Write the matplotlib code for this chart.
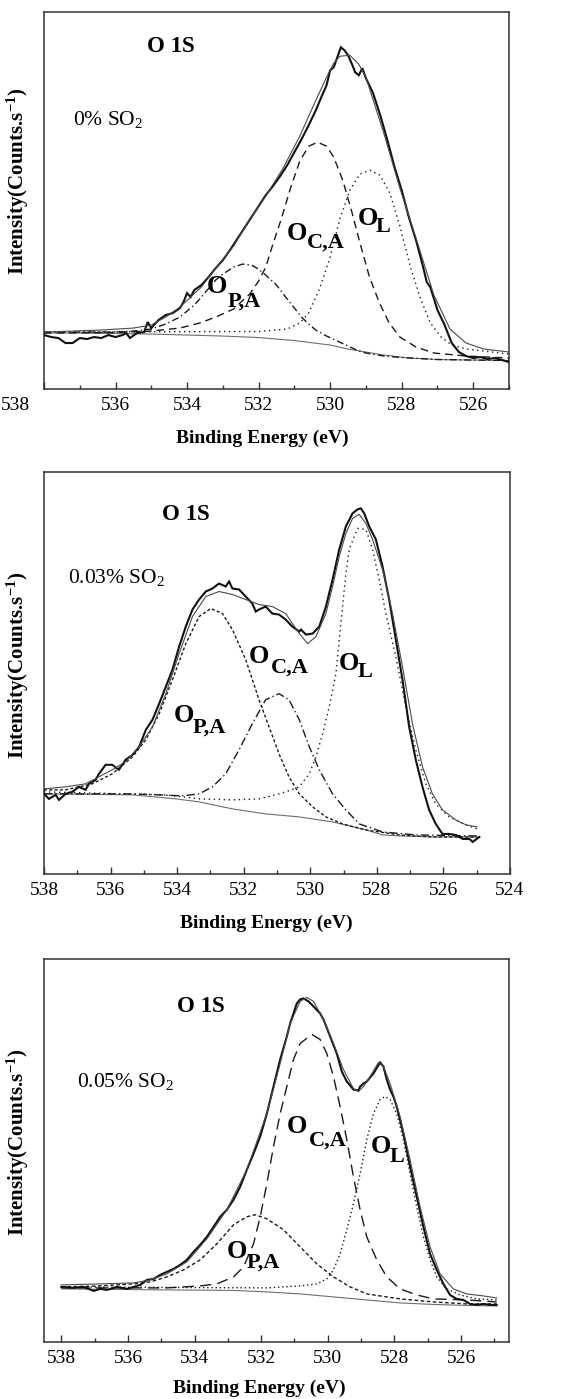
import matplotlib
matplotlib.use('Agg')
import matplotlib.pyplot as plt
from matplotlib.ticker import MultipleLocator, FuncFormatter

plt.rcParams['font.family'] = ['Liberation Serif', 'DejaVu Serif']
plt.rcParams['mathtext.fontset'] = 'custom'
plt.rcParams['mathtext.rm'] = 'Liberation Serif'
plt.rcParams['mathtext.it'] = 'Liberation Serif:italic'
plt.rcParams['mathtext.bf'] = 'Liberation Serif:bold'

# ---------------- Panel 1 : 0% SO2 ----------------
p1_raw_ev = [538.0, 537.8, 537.6, 537.4, 537.2, 537.0, 536.8, 536.6, 536.4, 536.2, 536.0, 535.8, 535.7, 535.6,
             535.4, 535.2, 535.1, 535.0, 534.8, 534.6, 534.4, 534.2, 534.1, 534.0, 533.9, 533.8, 533.6, 533.4,
             533.2, 533.0, 532.8, 532.6, 532.4, 532.2, 532.0, 531.8, 531.6, 531.4, 531.2, 531.0, 530.8, 530.6,
             530.4, 530.2, 530.1, 530.0, 529.9, 529.8, 529.7, 529.6, 529.5, 529.4, 529.3, 529.2, 529.1, 529.0,
             528.8, 528.6, 528.4, 528.2, 528.0, 527.8, 527.6, 527.4, 527.3, 527.2, 527.0, 526.8, 526.6, 526.4,
             526.2, 526.0, 525.8, 525.6, 525.4, 525.2, 525.0]
p1_raw = [54, 52, 51, 46, 46, 51, 50, 52, 51, 54, 52, 54, 56, 51, 56, 57, 67, 61, 69, 74, 76, 81, 87, 96, 92, 99,
          104, 112, 121, 129, 139, 150, 161, 172, 183, 194, 203, 213, 224, 237, 250, 264, 279, 296, 304, 319, 322,
          332, 342, 339, 334, 326, 317, 314, 321, 311, 296, 274, 249, 222, 199, 172, 149, 122, 107, 102, 79, 64,
          46, 37, 33, 31, 32, 30, 31, 29, 27]
p1_env_ev = [538.0, 536.4, 535.5, 535.0, 534.6, 534.2, 533.6, 533.2, 532.7, 532.25, 531.8, 531.3, 530.85, 530.4,
             530.1, 529.9, 529.73, 529.45, 529.2, 529.0, 528.5, 528.05, 527.6, 527.1, 526.65, 526.2, 525.7, 525.0]
p1_env = [57, 59, 61, 64, 72, 82, 102, 121, 143, 170, 193, 222, 253, 289, 312, 326, 333, 334, 325, 312, 256, 201,
          151, 94, 60, 46, 40, 37]
p1_bg_ev = [538, 537, 536, 535, 534, 533, 532, 531, 530, 529.5, 528.5, 527.8, 527, 526, 525]
p1_bg = [56, 56, 55.5, 55, 54, 53, 51.5, 48.5, 44, 40, 34, 31, 29.5, 29, 28.5]
p1_pa_ev = [538.0, 536.0, 535.5, 535.0, 534.6, 534.2, 533.8, 533.6, 533.2, 533.0, 532.7, 532.45, 532.2, 532.0,
            531.8, 531.5, 531.2, 531.0, 530.8, 530.6, 530.4, 530.1, 529.8, 529.5, 529.2, 529.0, 528.5, 528.0,
            527.0, 526.0, 525.0]
p1_pa = [57, 57, 58, 60, 65, 72, 84, 92, 109, 115, 122, 125, 124, 120, 114, 104, 90, 81, 72, 65, 59, 53, 48,
         43, 38, 36, 33, 31.5, 29.5, 29, 28.5]
p1_ca_ev = [538.0, 536.0, 535.0, 534.2, 533.65, 533.2, 532.7, 532.25, 532.0, 531.8, 531.6, 531.35, 531.1, 530.85,
            530.6, 530.35, 530.1, 529.9, 529.64, 529.4, 529.15, 528.9, 528.62, 528.35, 528.05, 527.6, 527.1,
            526.2, 525.0]
p1_ca = [56, 56.5, 58, 61, 66, 72, 80, 95, 108, 122, 145, 172, 202, 228, 243, 247, 243, 232, 208, 178, 144, 112,
         86, 66, 52, 42, 36, 33, 31]
p1_l_ev = [538.0, 533.0, 532.0, 531.2, 530.85, 530.6, 530.3, 530.0, 529.73, 529.45, 529.17, 528.89, 528.61,
           528.33, 528.05, 527.77, 527.49, 527.2, 526.9, 526.6, 526.19, 525.0]
p1_l = [57, 57.5, 57.5, 60, 66, 76, 100, 132, 170, 199, 215, 219, 214, 196, 163, 124, 92, 66, 52, 44, 40, 35]

# ---------------- Panel 2 : 0.03% SO2 ----------------
p2_raw_ev = [538.0, 537.85, 537.65, 537.55, 537.35, 537.15, 536.95, 536.75, 536.65, 536.45, 536.35, 536.15,
             535.95, 535.75, 535.55, 535.34, 535.14, 534.94, 534.74, 534.54, 534.34, 534.14, 533.94, 533.74,
             533.54, 533.34, 533.14, 532.94, 532.74, 532.54, 532.44, 532.34, 532.14, 531.94, 531.74, 531.64,
             531.54, 531.34, 531.14, 530.94, 530.74, 530.54, 530.33, 530.28, 530.13, 529.93, 529.73, 529.53,
             529.33, 529.13, 528.93, 528.73, 528.58, 528.48, 528.38, 528.23, 528.03, 527.83, 527.63, 527.43,
             527.23, 527.03, 526.83, 526.63, 526.43, 526.23, 526.03, 525.83, 525.63, 525.42, 525.22, 525.12,
             524.92]
p2_raw = [80, 75, 79, 74, 80, 82, 87, 84, 90, 94, 100, 109, 109, 104, 114, 119, 127, 144, 154, 170, 187, 204, 227,
          247, 264, 274, 282, 285, 290, 287, 292, 285, 284, 277, 270, 262, 264, 267, 260, 259, 254, 247, 242, 244,
          239, 240, 247, 267, 294, 324, 347, 360, 364, 365, 360, 347, 334, 307, 274, 234, 194, 147, 114, 87, 64,
          50, 40, 40, 39, 35, 35, 32, 37]
p2_env_ev = [538.0, 537.35, 536.75, 536.35, 535.95, 535.55, 535.14, 534.74, 534.34, 533.94, 533.54, 533.14,
             532.74, 532.34, 531.94, 531.54, 531.14, 530.74, 530.33, 530.08, 529.83, 529.53, 529.33, 529.13,
             528.93, 528.73, 528.53, 528.33, 528.13, 527.83, 527.53, 527.23, 526.93, 526.63, 526.33, 526.03,
             525.63, 525.32, 524.99]
p2_env = [85, 87, 90, 97, 104, 112, 127, 147, 180, 220, 257, 277, 282, 279, 274, 269, 267, 260, 240, 230, 237, 260,
          287, 317, 340, 355, 359, 350, 334, 304, 260, 207, 150, 107, 80, 64, 54, 49, 47]
p2_bg_ev = [538.0, 535.34, 534.04, 533.34, 532.34, 531.34, 530.33, 529.33, 528.33, 527.83, 527.33, 526.33, 524.99]
p2_bg = [80, 79, 75, 72, 65, 60, 57, 52, 44, 39, 38, 37, 37]
p2_pa_ev = [538.0, 537.35, 536.55, 535.95, 535.34, 534.94, 534.54, 534.14, 533.74, 533.34, 532.99, 532.64,
            532.34, 531.94, 531.54, 531.24, 530.94, 530.64, 530.33, 529.93, 529.53, 529.03, 528.33, 527.33,
            526.33, 524.99]
p2_pa = [84, 84, 90, 100, 117, 134, 160, 194, 230, 257, 265, 260, 244, 214, 174, 147, 120, 97, 80, 67, 57, 50,
         44, 39, 37, 37]
p2_ca_ev = [538.0, 535.34, 533.84, 533.34, 532.94, 532.54, 532.14, 531.74, 531.34, 530.94, 530.64, 530.33,
            530.03, 529.73, 529.33, 528.93, 528.53, 527.83, 526.83, 524.99]
p2_ca = [80, 80, 78, 80, 87, 100, 124, 150, 174, 180, 174, 154, 127, 104, 80, 64, 50, 42, 39, 38]
p2_l_ev = [538.0, 534.34, 533.34, 532.34, 531.54, 531.04, 530.74, 530.33, 530.03, 529.83, 529.63, 529.43,
           529.23, 529.13, 529.03, 528.93, 528.83, 528.58, 528.33, 528.13, 527.93, 527.73, 527.43, 527.13,
           526.83, 526.53, 526.23, 525.83, 525.32, 524.99]
p2_l = [82, 79, 75, 74, 75, 79, 82, 87, 100, 117, 140, 167, 200, 234, 267, 300, 324, 345, 344, 324, 294, 260, 217,
        167, 124, 90, 70, 57, 49, 45]

# ---------------- Panel 3 : 0.05% SO2 ----------------
p3_raw_ev = [538.0, 537.63, 537.33, 537.03, 536.83, 536.63, 536.33, 536.03, 535.83, 535.63, 535.43, 535.23,
             535.03, 534.83, 534.63, 534.43, 534.23, 534.03, 533.83, 533.63, 533.43, 533.23, 533.03, 532.83,
             532.63, 532.43, 532.23, 532.03, 531.83, 531.63, 531.43, 531.23, 531.13, 531.03, 530.93, 530.83,
             530.73, 530.58, 530.43, 530.23, 530.13, 529.93, 529.73, 529.58, 529.43, 529.23, 529.08, 529.03,
             528.93, 528.83, 528.63, 528.43, 528.33, 528.23, 528.13, 528.03, 527.93, 527.73, 527.53, 527.33,
             527.13, 526.93, 526.73, 526.53, 526.33, 526.13, 525.93, 525.73, 525.53, 525.33, 525.13, 524.93]
p3_raw = [55, 54, 55, 51, 53, 52, 55, 53, 55, 57, 62, 63, 67, 70, 73, 77, 82, 90, 97, 105, 115, 125, 132, 142,
          155, 172, 188, 205, 228, 255, 282, 305, 318, 328, 338, 342, 343, 340, 335, 328, 322, 305, 288, 270, 260,
          252, 251, 255, 258, 260, 268, 279, 275, 262, 252, 245, 235, 208, 175, 145, 115, 88, 72, 58, 47, 43, 42,
          38, 37, 38, 37, 37]
p3_env_ev = [538.0, 536.83, 535.83, 535.33, 534.83, 534.23, 533.63, 533.03, 532.43, 531.83, 531.43, 531.13,
             530.83, 530.63, 530.43, 530.13, 529.83, 529.53, 529.23, 529.08, 528.93, 528.73, 528.48, 528.33,
             528.13, 527.83, 527.53, 527.23, 526.93, 526.63, 526.23, 525.83, 525.33, 524.93]
p3_env = [57, 58, 59, 62, 68, 80, 103, 132, 172, 228, 278, 318, 340, 344, 340, 322, 298, 272, 253, 250, 255, 265,
          279, 275, 258, 225, 182, 135, 95, 68, 53, 48, 46, 44]
p3_bg_ev = [538.0, 534.83, 532.83, 531.83, 530.83, 529.83, 528.83, 527.83, 526.83, 525.83, 524.93]
p3_bg = [53, 52, 51.5, 50, 48, 45, 42, 39, 37.5, 36.5, 36]
p3_pa_ev = [538.0, 536.83, 535.83, 535.33, 534.83, 534.33, 533.83, 533.33, 532.83, 532.43, 532.18, 531.83,
            531.33, 530.83, 530.33, 529.83, 529.33, 528.83, 527.83, 526.83, 525.83, 524.93]
p3_pa = [55, 56, 58, 60, 65, 72, 82, 98, 117, 125, 127, 123, 112, 95, 78, 65, 55, 48, 43, 40, 38, 38]
p3_ca_ev = [538.0, 534.83, 533.83, 533.33, 532.83, 532.53, 532.23, 532.03, 531.83, 531.63, 531.43, 531.23,
            531.03, 530.83, 530.48, 530.23, 530.03, 529.83, 529.63, 529.43, 529.23, 529.03, 528.83, 528.53,
            528.23, 527.83, 527.33, 526.83, 525.83, 524.93]
p3_ca = [54, 54, 56, 58, 65, 75, 98, 125, 158, 195, 228, 255, 282, 298, 307, 302, 288, 265, 235, 202, 165, 132,
         105, 82, 65, 53, 47, 43, 42, 40]
p3_l_ev = [538.0, 531.83, 530.83, 530.33, 530.03, 529.83, 529.63, 529.43, 529.23, 529.03, 528.83, 528.63,
           528.43, 528.28, 528.13, 527.93, 527.73, 527.53, 527.33, 527.13, 526.93, 526.73, 526.43, 526.03,
           525.53, 524.93]
p3_l = [55, 54, 56, 58, 63, 72, 88, 112, 138, 168, 202, 228, 242, 245, 242, 228, 202, 168, 135, 105, 82, 65, 53,
        47, 43, 42]

sample_labels = ['0% SO$_2$', '0.03% SO$_2$', '0.05% SO$_2$']
core_label = 'O 1S'
x_label = 'Binding Energy (eV)'
y_label = r'Intensity(Counts.s$^{\mathbf{-1}}$)'

# ---------------- layout ----------------
W, H = 569, 1399
fig = plt.figure(figsize=(W / 100, H / 100), dpi=100)

def box(l, r, t, b):
    return [l / W, (H - b) / H, (r - l) / W, (b - t) / H]

panels = [
    dict(rect=box(44, 509, 12, 389), xlim=(538.0, 525.0), ylim=(0, 377.3),
         raw=(p1_raw_ev, p1_raw), env=(p1_env_ev, p1_env), bg=(p1_bg_ev, p1_bg),
         pa=(p1_pa_ev, p1_pa), ca=(p1_ca_ev, p1_ca), ol=(p1_l_ev, p1_l),
         pa_style=(0, (5, 2.2, 1, 2.2)), ca_style=(0, (5.5, 3.5)), ol_style=(0, (1, 2.6)),
         sample=sample_labels[0], sample_pos=(0.062, 0.700), core_pos=(0.221, 0.894),
         oca=((0.522, 0.395), (0.566, 0.374)), ol_lab=((0.674, 0.435), (0.714, 0.416)),
         opa=((0.350, 0.254), (0.394, 0.218)),
         xlab=(0.47, -0.108), ylab=(-0.028, 0.55), hide538=True),
    dict(rect=box(44, 510, 472, 874), xlim=(538.0, 524.0), ylim=(0, 401.3),
         raw=(p2_raw_ev, p2_raw), env=(p2_env_ev, p2_env), bg=(p2_bg_ev, p2_bg),
         pa=(p2_pa_ev, p2_pa), ca=(p2_ca_ev, p2_ca), ol=(p2_l_ev, p2_l),
         pa_style=(0, (2.2, 1.6)), ca_style=(0, (6, 2.2, 1, 2.2)), ol_style=(0, (1, 2.6)),
         sample=sample_labels[1], sample_pos=(0.052, 0.724), core_pos=(0.253, 0.881),
         oca=((0.440, 0.525), (0.486, 0.500)), ol_lab=((0.633, 0.507), (0.673, 0.490)),
         opa=((0.279, 0.378), (0.319, 0.353)),
         xlab=(0.476, -0.102), ylab=(-0.028, 0.52), hide538=False),
    dict(rect=box(44, 509, 959, 1342), xlim=(538.52, 524.56), ylim=(0, 382.3),
         raw=(p3_raw_ev, p3_raw), env=(p3_env_ev, p3_env), bg=(p3_bg_ev, p3_bg),
         pa=(p3_pa_ev, p3_pa), ca=(p3_ca_ev, p3_ca), ol=(p3_l_ev, p3_l),
         pa_style=(0, (2.6, 1.8)), ca_style=(0, (8, 4.5)), ol_style=(0, (1, 2.0)),
         sample=sample_labels[2], sample_pos=(0.071, 0.666), core_pos=(0.286, 0.862),
         oca=((0.522, 0.545), (0.569, 0.514)), ol_lab=((0.703, 0.493), (0.743, 0.470)),
         opa=((0.394, 0.219), (0.435, 0.193)),
         xlab=(0.462, -0.099), ylab=(-0.028, 0.52), hide538=False),
]

comp_color = '#1a1a1a'
for p in panels:
    ax = fig.add_axes(p['rect'])
    ax.plot(*p['bg'], color='#6e6e6e', lw=0.8, zorder=2)
    ax.plot(*p['pa'], color=comp_color, lw=1.0, linestyle=p['pa_style'], zorder=3)
    ax.plot(*p['ca'], color=comp_color, lw=1.0, linestyle=p['ca_style'], zorder=3)
    ax.plot(*p['ol'], color=comp_color, lw=1.0, linestyle=p['ol_style'], zorder=3)
    ax.plot(*p['raw'], color='#111111', lw=1.5, zorder=4, solid_joinstyle='miter')
    ax.plot(*p['env'], color='#4a4a4a', lw=0.8, zorder=5)
    ax.set_xlim(*p['xlim'])
    ax.set_ylim(*p['ylim'])
    ax.set_yticks([])
    ax.xaxis.set_major_locator(MultipleLocator(2))
    ax.xaxis.set_minor_locator(MultipleLocator(1))
    if p['hide538']:
        ax.xaxis.set_major_formatter(FuncFormatter(lambda v, pos: '' if abs(v - 538) < 0.01 else f'{v:.0f}'))
        ax.text(-0.062, -0.045, '538', transform=ax.transAxes, ha='center', va='center', fontsize=14)
    else:
        ax.xaxis.set_major_formatter(FuncFormatter(lambda v, pos: f'{v:.0f}'))
    ax.tick_params(axis='x', which='major', direction='in', length=5, width=1.0, labelsize=14, pad=6,
                   color='#333333', top=False)
    ax.tick_params(axis='x', which='minor', direction='in', length=3, width=1.0, color='#333333', top=False)
    for s in ax.spines.values():
        s.set_linewidth(1.1)
        s.set_color('#333333')
    ax.set_xlabel(x_label, fontsize=14, fontweight='bold')
    ax.xaxis.set_label_coords(*p['xlab'])
    ax.set_ylabel(y_label, fontsize=15, fontweight='bold')
    ax.yaxis.set_label_coords(*p['ylab'])

    ax.text(*p['core_pos'], core_label, transform=ax.transAxes, fontsize=16.5, fontweight='bold',
            ha='left', va='baseline')
    ax.text(*p['sample_pos'], p['sample'], transform=ax.transAxes, fontsize=15.5, ha='left', va='baseline')
    for (opos, spos), sub in ((p['oca'], 'C,A'), (p['ol_lab'], 'L'), (p['opa'], 'P,A')):
        ax.text(*opos, 'O', transform=ax.transAxes, fontsize=19, fontweight='bold', ha='left', va='baseline')
        ax.text(*spos, sub, transform=ax.transAxes, fontsize=16, fontweight='bold', ha='left', va='baseline')

fig.savefig('out.png', dpi=100)
